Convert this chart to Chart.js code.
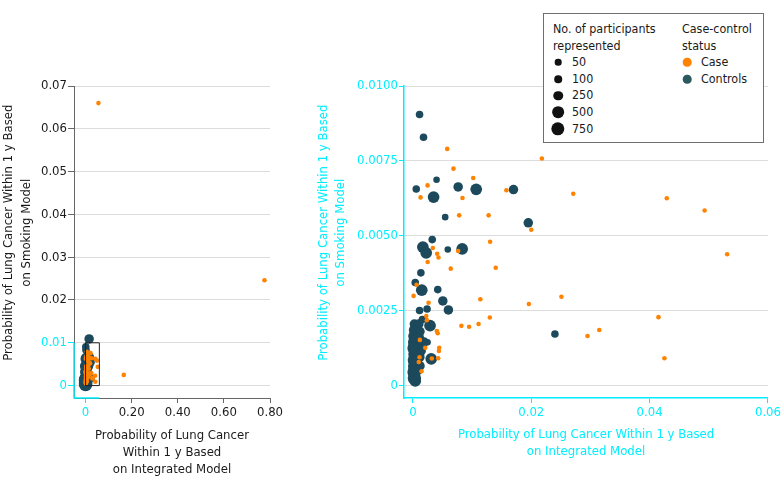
<!DOCTYPE html>
<html>
<head>
<meta charset="utf-8">
<script src="https://cdn.jsdelivr.net/npm/chart.js@4.4.0/dist/chart.umd.min.js"></script>
<style>
  body { margin: 0; background: #fff; font-family: "DejaVu Sans Condensed", "Liberation Sans", Arial, sans-serif; }
  #wrap { position: relative; width: 783px; height: 487px; overflow: hidden; }
  #leftChart { position: absolute; left: 0; top: 0; }
  #rightChart { position: absolute; left: 295px; top: 0; }
  #legend {
    position: absolute; left: 543px; top: 13px; width: 219px; height: 128px;
    border: 1px solid #6f6f6f; background: #fff; font-size: 12.4px; color: #1a1a1a;
    line-height: 16.6px;
  }
  #legend .col { position: absolute; top: 7px; }
  #legend .row { position: relative; height: 16.6px; padding-left: 19px; }
  #legend .dot { position: absolute; border-radius: 50%; top: 50%; transform: translate(-50%, -50%); }
</style>
</head>
<body>
<div id="wrap">
  <canvas id="leftChart" width="290" height="487"></canvas>
  <canvas id="rightChart" width="488" height="487"></canvas>
  <div id="legend">
    <div class="col" id="sizeCol" style="left:9px;width:120px">
      <div>No. of participants<br>represented</div>
    </div>
    <div class="col" id="statusCol" style="left:138px;width:80px">
      <div>Case-control<br>status</div>
    </div>
  </div>
</div>
<script>
// cases, one participant per dot
const caseX = [0.0058, 0.00686, 0.00248, 0.0013, 0.0102, 0.00838, 0.0158, 0.00782, 0.0128, 0.01305,
  0.00337, 0.0041, 0.00765, 0.00433, 0.0218, 0.0271, 0.0200, 0.0140, 0.0064, 0.0025,
  0.0429, 0.0493, 0.0531, 0.0251, 0.0415, 0.0315, 0.0295, 0.0425, 0.00062, 0.00012,
  0.0114, 0.0196, 0.0130, 0.0111, 0.0095, 0.0082, 0.00265, 0.00226, 0.00236, 0.00405,
  0.0042, 0.00445, 0.0044, 0.00209, 0.00113, 0.0010, 0.00428, 0.0032, 0.00147, 0.00118,
  0.056, 0.776, 0.166];
const caseY = [0.0079, 0.00724, 0.00668, 0.00628, 0.00693, 0.00626, 0.00652, 0.00568, 0.00568, 0.0048,
  0.00459, 0.0044, 0.00449, 0.00427, 0.00758, 0.0064, 0.0052, 0.00393, 0.0039, 0.00412,
  0.00625, 0.00584, 0.00438, 0.00296, 0.00228, 0.00185, 0.00165, 0.00091, 0.00336, 0.00299,
  0.00288, 0.00272, 0.00227, 0.00205, 0.00196, 0.00199, 0.00276, 0.00232, 0.00218, 0.00182,
  0.00174, 0.00126, 0.00115, 0.00126, 0.00094, 0.00078, 0.00091, 0.0009, 0.00047, 0.00152,
  0.066, 0.0246, 0.0025];

// controls, weighted by number of participants represented
const controlX = [0.00113, 0.0018, 0.00057, 0.0035, 0.0040, 0.00765, 0.0107, 0.0170, 0.00546, 0.00327,
  0.00169, 0.00225, 0.0059, 0.00833, 0.0195, 0.00135, 0.0004, 0.0015, 0.0042, 0.00506,
  0.0060, 0.0240, 0.0024, 0.00113, 0.0029, 0.00248, 0.0031, 0.00025, 0.0003, 0.0002,
  0.0003, 0.0002, 0.00035, 0.00025, 0.0003, 0.0002, 0.00025, 0.0004, 0.0010, 0.0012,
  0.0009, 0.0011, 0.0014, 0.0010, 0.0012, 0.0008, 0.0019, 0.0016, 0.0156];
const controlY = [0.00905, 0.00829, 0.00656, 0.00629, 0.00687, 0.00663, 0.00655, 0.00654, 0.00562, 0.00487,
  0.00462, 0.00443, 0.00454, 0.00456, 0.00543, 0.00376, 0.00344, 0.00318, 0.0032, 0.00282,
  0.00252, 0.00172, 0.00255, 0.0025, 0.002, 0.00144, 0.00089, 0.00205, 0.00185, 0.00165,
  0.00145, 0.00125, 0.00105, 0.00085, 0.00065, 0.00045, 0.00025, 0.00015, 0.00205, 0.0018,
  0.0016, 0.0013, 0.00115, 0.00095, 0.00065, 0.0005, 0.00145, 0.0022, 0.0109];
const controlN = [100, 100, 100, 500, 50, 250, 500, 250, 50, 100,
  500, 500, 50, 500, 250, 100, 100, 500, 100, 250,
  250, 100, 100, 100, 500, 50, 500, 250, 500, 500,
  750, 750, 750, 750, 750, 750, 750, 500, 250, 250,
  500, 500, 250, 500, 250, 250, 250, 100, 250];

const sizeLegend = [50, 100, 250, 500, 750];
const statusLegend = ['Case', 'Controls'];

const leftXTicks = [0, 0.2, 0.4, 0.6, 0.8];
const leftXLabels = ['0', '0.20', '0.40', '0.60', '0.80'];
const leftYTicks = [0, 0.01, 0.02, 0.03, 0.04, 0.05, 0.06, 0.07];
const leftYLabels = ['0', '0.01', '0.02', '0.03', '0.04', '0.05', '0.06', '0.07'];
const rightXTicks = [0, 0.02, 0.04, 0.06];
const rightXLabels = ['0', '0.02', '0.04', '0.06'];
const rightYTicks = [0, 0.0025, 0.005, 0.0075, 0.01];
const rightYLabels = ['0', '0.0025', '0.0050', '0.0075', '0.0100'];

// outline of the zoomed region on the left panel
const zoomBoxX = [0, 0.06, 0.06, 0, 0];
const zoomBoxY = [0, 0, 0.01, 0.01, 0];

const CASE_COLOR = '#ff8200';
const CONTROL_COLOR = '#1c4a5c';
const CYAN = '#00eeff';
const TEXT = '#1a1a1a';
const GRID = '#dcdcdc';
const FONT = '"DejaVu Sans Condensed", "Liberation Sans", Arial, sans-serif';

function radiusFor(n) {
    return 2.12 + 0.167 * Math.sqrt(n);
}

function bubbleData(xs, ys, ns) {
    return xs.map((x, i) => ({ x: x, y: ys[i], r: radiusFor(ns ? ns[i] : 1) }));
}

function datasets(withBox) {
    const sets = [];
    if (withBox) {
        sets.push({
            type: 'line',
            data: zoomBoxX.map((x, i) => ({ x: x, y: zoomBoxY[i] })),
            borderColor: '#222',
            borderWidth: 1,
            pointRadius: 0,
            fill: false
        });
    }
    sets.push({
        label: 'Case',
        data: bubbleData(caseX, caseY),
        backgroundColor: CASE_COLOR,
        borderWidth: 0
    });
    sets.push({
        label: 'Controls',
        data: bubbleData(controlX, controlY, controlN),
        backgroundColor: CONTROL_COLOR,
        borderWidth: 0
    });
    return sets;
}

// cyan highlight of the zoomed range on the left panel's axis lines
const zoomSpines = {
    id: 'zoomSpines',
    afterDraw(chart) {
        const { ctx, chartArea, scales } = chart;
        const yTop = scales.y.getPixelForValue(0.01);
        const xEnd = scales.x.getPixelForValue(0.06);
        ctx.save();
        ctx.strokeStyle = CYAN;
        ctx.lineWidth = 1.5;
        ctx.beginPath();
        ctx.moveTo(chartArea.left, yTop);
        ctx.lineTo(chartArea.left, chartArea.bottom);
        ctx.lineTo(xEnd, chartArea.bottom);
        ctx.stroke();
        ctx.restore();
    }
};

const baseFont = { family: FONT, size: 13 };
const titleFont = { family: FONT, size: 13, lineHeight: 1.3 };

new Chart(document.getElementById('leftChart'), {
    type: 'bubble',
    data: { datasets: datasets(true) },
    options: {
        responsive: false,
        animation: false,
        events: [],
        layout: { padding: { top: 86, right: 20, bottom: 0, left: 0 } },
        plugins: { legend: { display: false }, tooltip: { enabled: false } },
        scales: {
            x: {
                type: 'linear', min: -0.05, max: 0.8,
                afterBuildTicks: s => { s.ticks = leftXTicks.map(v => ({ value: v })); },
                afterFit: s => { s.height = 89; },
                ticks: {
                    font: baseFont, padding: 2, maxRotation: 0,
                    color: c => c.tick && c.tick.value === 0 ? CYAN : TEXT,
                    callback: (v, i) => leftXLabels[i]
                },
                grid: {
                    drawOnChartArea: false, tickLength: 5,
                    tickColor: c => c.tick && c.tick.value === 0 ? CYAN : '#666'
                },
                border: { color: '#666' },
                title: {
                    display: true, color: TEXT, font: titleFont, padding: { top: 0, bottom: 9 },
                    text: ['Probability of Lung Cancer', 'Within 1 y Based', 'on Integrated Model']
                }
            },
            y: {
                type: 'linear', min: -0.0029, max: 0.07,
                afterBuildTicks: s => { s.ticks = leftYTicks.map(v => ({ value: v })); },
                afterFit: s => { s.width = 74; },
                ticks: {
                    font: baseFont, padding: 1,
                    color: c => c.tick && c.tick.value <= 0.0100001 ? CYAN : TEXT,
                    callback: (v, i) => leftYLabels[i]
                },
                grid: {
                    color: GRID, tickLength: 6,
                    tickColor: c => c.tick && c.tick.value <= 0.0100001 ? CYAN : '#666'
                },
                border: { color: '#666' },
                title: {
                    display: true, color: TEXT, font: { family: FONT, size: 13, lineHeight: 1.38 }, padding: 0,
                    text: ['     Probability of Lung Cancer Within 1 y Based', '     on Smoking Model']
                }
            }
        }
    },
    plugins: [zoomSpines]
});

new Chart(document.getElementById('rightChart'), {
    type: 'bubble',
    data: { datasets: datasets(false) },
    options: {
        responsive: false,
        animation: false,
        events: [],
        layout: { padding: { top: 86, right: 14, bottom: 0, left: 20 } },
        plugins: { legend: { display: false }, tooltip: { enabled: false } },
        scales: {
            x: {
                type: 'linear', min: -0.0015, max: 0.06,
                afterBuildTicks: s => { s.ticks = rightXTicks.map(v => ({ value: v })); },
                afterFit: s => { s.height = 89; },
                ticks: { font: baseFont, padding: 2, maxRotation: 0, color: CYAN, callback: (v, i) => rightXLabels[i] },
                grid: { drawOnChartArea: false, tickLength: 5, tickColor: CYAN },
                border: { color: CYAN, width: 1.5 },
                title: {
                    display: true, color: CYAN, font: titleFont, padding: { top: 0, bottom: 27 },
                    text: ['Probability of Lung Cancer Within 1 y Based', 'on Integrated Model']
                }
            },
            y: {
                type: 'linear', min: -0.00042, max: 0.01,
                afterBuildTicks: s => { s.ticks = rightYTicks.map(v => ({ value: v })); },
                afterFit: s => { s.width = 89; },
                ticks: { font: baseFont, padding: 1, color: CYAN, callback: (v, i) => rightYLabels[i] },
                grid: { color: GRID, tickLength: 5, tickColor: CYAN },
                border: { color: CYAN, width: 1.5 },
                title: {
                    display: true, color: CYAN, font: titleFont, padding: 0,
                    text: ['     Probability of Lung Cancer Within 1 y Based', '     on Smoking Model']
                }
            }
        }
    }
});

// legend
const sizeCol = document.getElementById('sizeCol');
sizeLegend.forEach(n => {
    const r = radiusFor(n);
    const row = document.createElement('div');
    row.className = 'row';
    row.innerHTML = `<span class="dot" style="left:5px;width:${2 * r}px;height:${2 * r}px;background:#111"></span>${n}`;
    sizeCol.appendChild(row);
});
const statusCol = document.getElementById('statusCol');
[CASE_COLOR, '#2b5a5e'].forEach((c, i) => {
    const row = document.createElement('div');
    row.className = 'row';
    row.innerHTML = `<span class="dot" style="left:5px;width:8.6px;height:8.6px;background:${c}"></span>${statusLegend[i]}`;
    statusCol.appendChild(row);
});
</script>
</body>
</html>
